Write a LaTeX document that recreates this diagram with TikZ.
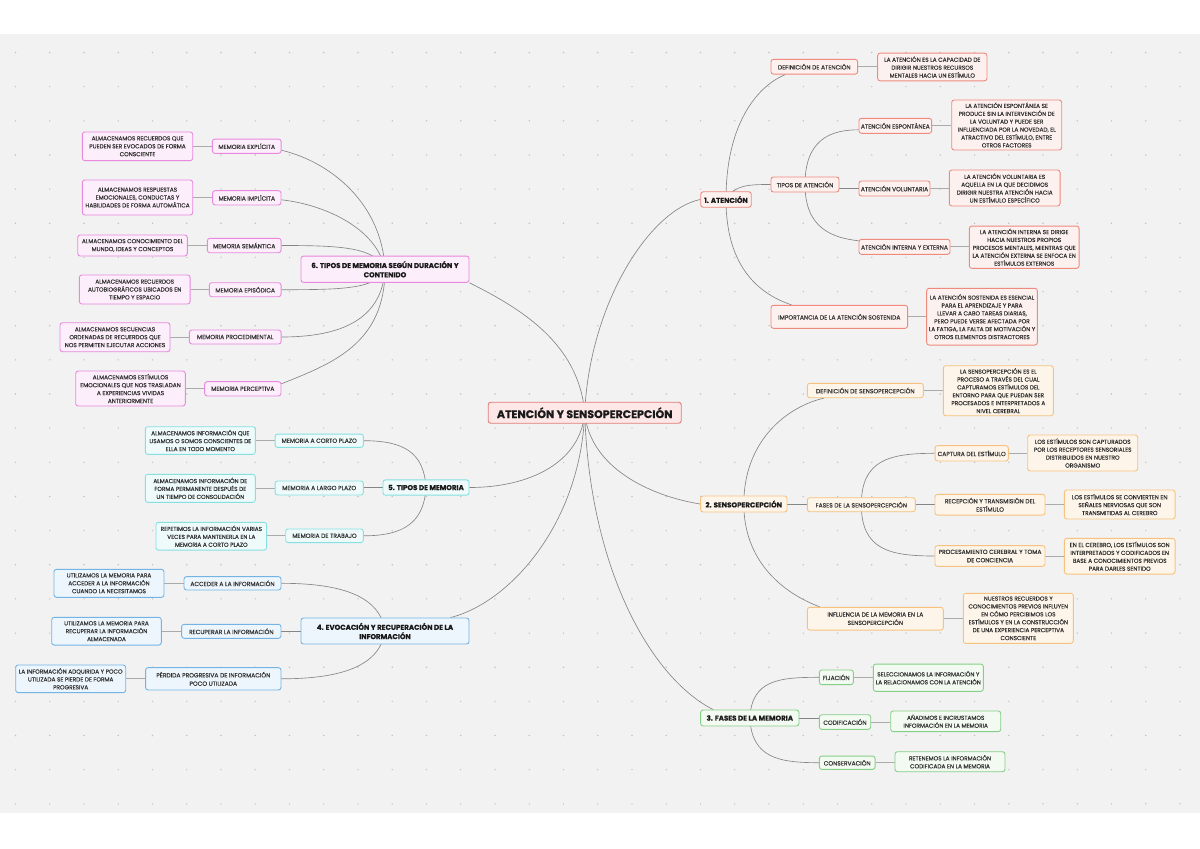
\documentclass[tikz,border=0pt]{standalone}
\usepackage{fontspec}
\setmainfont{Poppins}
\newfontfamily\medfont{Poppins}[FakeBold=0.35]
\newfontfamily\heavyfont{Poppins}[BoldFeatures={FakeBold=0.5}]
\usetikzlibrary{calc,backgrounds}
\definecolor{bgG}{HTML}{F2F2F2}
\definecolor{dotG}{HTML}{C4C4C4}
\definecolor{lnG}{HTML}{858585}
\definecolor{lfG}{HTML}{ABABAB}
\definecolor{txt}{HTML}{333333}
\definecolor{hdt}{HTML}{1A1A1A}
\definecolor{cB}{HTML}{E07E78}\definecolor{cF}{HTML}{FDE7E7}
\definecolor{atB}{HTML}{EE8A7E}\definecolor{atF}{HTML}{FDF1EF}
\definecolor{soB}{HTML}{F6C27E}\definecolor{soF}{HTML}{FEF5EA}
\definecolor{meB}{HTML}{86CF86}\definecolor{meF}{HTML}{F3FAF2}
\definecolor{evB}{HTML}{74B4E4}\definecolor{evF}{HTML}{EEF6FD}
\definecolor{tmB}{HTML}{86E0E2}\definecolor{tmF}{HTML}{EFFBFB}
\definecolor{tdB}{HTML}{E888DF}\definecolor{tdF}{HTML}{FCEEFA}
\newcommand\lfnt{\medfont\fontsize{5.8}{7.9}\selectfont}
\newcommand\mfnt{\medfont\fontsize{6.0}{8.3}\selectfont}
\newcommand\hfnt{\heavyfont\fontsize{7.1}{9.3}\selectfont\bfseries}
\newcommand\cfnt{\heavyfont\fontsize{11}{13}\selectfont\bfseries}
\tikzset{
  box/.style={draw, rounded corners=2.5pt, line width=0.9pt, align=center, inner sep=1pt, text=txt},
  lbox/.style={box, font=\lfnt},
  mbox/.style={box, font=\mfnt},
  hbox/.style={box, font=\hfnt, text=hdt},
  sz/.style 2 args={minimum width=#1pt, minimum height=#2pt},
  atn/.style={draw=atB, fill=atF},
  son/.style={draw=soB, fill=soF},
  men/.style={draw=meB, fill=meF},
  evn/.style={draw=evB, fill=evF},
  tmn/.style={draw=tmB, fill=tmF},
  tdn/.style={draw=tdB, fill=tdF},
  curve/.style={draw=lnG, line width=0.65pt},
  leafln/.style={draw=lfG, line width=0.9pt},
}
\begin{document}
\begin{tikzpicture}[x=1pt,y=-1pt]
\useasboundingbox (0,0) rectangle (1200,849);
% ---------- nodes ----------
\node[box, font=\cfnt, text=hdt, draw=cB, fill=cF, sz={193}{21}] (c) at (584.7,412.7) {ATENCIÓN Y SENSOPERCEPCIÓN};
% 1
\node[hbox, atn, sz={50.5}{15.5}] (n1) at (726,199.5) {1. ATENCIÓN};
\node[mbox, atn, sz={86.7}{14.7}] (n1a) at (814.3,66.7) {DEFINICIÓN DE ATENCIÓN};
\node[lbox, atn, sz={109.3}{27.7}] (n1aL) at (932.3,67) {LA ATENCIÓN ES LA CAPACIDAD DE\\DIRIGIR NUESTROS RECURSOS\\MENTALES HACIA UN ESTÍMULO};
\node[mbox, atn, sz={68}{15}] (n1b) at (805,184.5) {TIPOS DE ATENCIÓN};
\node[mbox, atn, sz={72.7}{15}] (n1b1) at (895.3,125.8) {ATENCIÓN ESPONTÁNEA};
\node[lbox, atn, sz={110}{50}] (n1b1L) at (1006.7,125) {LA ATENCIÓN ESPONTÁNEA SE\\PRODUCE SIN LA INTERVENCIÓN DE\\LA VOLUNTAD Y PUEDE SER\\INFLUENCIADA POR LA NOVEDAD, EL\\ATRACTIVO DEL ESTÍMULO, ENTRE\\OTROS FACTORES};
\node[mbox, atn, sz={71}{15}] (n1b2) at (894.5,188.5) {ATENCIÓN VOLUNTARIA};
\node[lbox, atn, sz={110.7}{36}] (n1b2L) at (1004.7,188) {LA ATENCIÓN VOLUNTARIA ES\\AQUELLA EN LA QUE DECIDIMOS\\DIRIGIR NUESTRA ATENCIÓN HACIA\\UN ESTÍMULO ESPECÍFICO};
\node[mbox, atn, sz={91}{15}] (n1b3) at (904.5,246.8) {ATENCIÓN INTERNA Y EXTERNA};
\node[lbox, atn, sz={109.7}{42.3}] (n1b3L) at (1024.2,247.2) {LA ATENCIÓN INTERNA SE DIRIGE\\HACIA NUESTROS PROPIOS\\PROCESOS MENTALES, MIENTRAS QUE\\LA ATENCIÓN EXTERNA SE ENFOCA EN\\ESTÍMULOS EXTERNOS};
\node[mbox, atn, sz={136.7}{23}] (n1c) at (839.3,316.8) {IMPORTANCIA DE LA ATENCIÓN SOSTENIDA};
\node[lbox, atn, sz={110.7}{56.7}] (n1cL) at (982,316.7) {LA ATENCIÓN SOSTENIDA ES ESENCIAL\\PARA EL APRENDIZAJE Y PARA\\LLEVAR A CABO TAREAS DIARIAS,\\PERO PUEDE VERSE AFECTADA POR\\LA FATIGA, LA FALTA DE MOTIVACIÓN Y\\OTROS ELEMENTOS DISTRACTORES};
% 2
\node[hbox, son, sz={86.3}{16}] (n2) at (743.8,504) {2. SENSOPERCEPCIÓN};
\node[mbox, son, sz={116}{14.4}] (n2a) at (865.3,390.5) {DEFINICIÓN DE SENSOPERCEPCIÓN};
\node[lbox, son, sz={110}{50}] (n2aL) at (998.3,390.7) {LA SENSOPERCEPCIÓN ES EL\\PROCESO A TRAVÉS DEL CUAL\\CAPTURAMOS ESTÍMULOS DEL\\ENTORNO PARA QUE PUEDAN SER\\PROCESADOS E INTERPRETADOS A\\NIVEL CEREBRAL};
\node[mbox, son, sz={108}{14}] (n2b) at (861.3,504.7) {FASES DE LA SENSOPERCEPCIÓN};
\node[mbox, son, sz={73.3}{15.3}] (n2b1) at (971.7,453.3) {CAPTURA DEL ESTÍMULO};
\node[lbox, son, sz={110}{36}] (n2b1L) at (1082.7,453) {LOS ESTÍMULOS SON CAPTURADOS\\POR LOS RECEPTORES SENSORIALES\\DISTRIBUIDOS EN NUESTRO\\ORGANISMO};
\node[mbox, son, sz={110}{20.7}] (n2b2) at (990,504.7) {RECEPCIÓN Y TRANSMISIÓN DEL\\ESTÍMULO};
\node[lbox, son, sz={110.7}{29}] (n2b2L) at (1119.7,504.5) {LOS ESTÍMULOS SE CONVIERTEN EN\\SEÑALES NERVIOSAS QUE SON\\TRANSMITIDAS AL CEREBRO};
\node[mbox, son, sz={110}{20.7}] (n2b3) at (990,556) {PROCESAMIENTO CEREBRAL Y TOMA\\DE CONCIENCIA};
\node[lbox, son, sz={110.7}{35.7}] (n2b3L) at (1119.7,556.2) {EN EL CEREBRO, LOS ESTÍMULOS SON\\INTERPRETADOS Y CODIFICADOS EN\\BASE A CONOCIMIENTOS PREVIOS\\PARA DARLES SENTIDO};
\node[mbox, son, sz={136}{22.7}] (n2c) at (875.3,618.7) {INFLUENCIA DE LA MEMORIA EN LA\\SENSOPERCEPCIÓN};
\node[lbox, son, sz={110}{50}] (n2cL) at (1018.3,618.3) {NUESTROS RECUERDOS Y\\CONOCIMIENTOS PREVIOS INFLUYEN\\EN CÓMO PERCIBIMOS LOS\\ESTÍMULOS Y EN LA CONSTRUCCIÓN\\DE UNA EXPERIENCIA PERCEPTIVA\\CONSCIENTE};
% 3
\node[hbox, men, sz={98.3}{16}] (n3) at (749.8,718) {3. FASES DE LA MEMORIA};
\node[mbox, men, sz={34}{14.7}] (n3a) at (836.3,677.3) {FIJACIÓN};
\node[lbox, men, sz={110}{27.3}] (n3aL) at (928.3,677.7) {SELECCIONAMOS LA INFORMACIÓN Y\\LA RELACIONAMOS CON LA ATENCIÓN};
\node[mbox, men, sz={51.4}{14.6}] (n3b) at (845,722) {CODIFICACIÓN};
\node[lbox, men, sz={110}{20.7}] (n3bL) at (945.7,721.3) {AÑADIMOS E INCRUSTAMOS\\INFORMACIÓN EN LA MEMORIA};
\node[mbox, men, sz={55.7}{13.3}] (n3c) at (847.2,762.7) {CONSERVACIÓN};
\node[lbox, men, sz={110}{20}] (n3cL) at (950,761.7) {RETENEMOS LA INFORMACIÓN\\CODIFICADA EN LA MEMORIA};
% 6
\node[hbox, tdn, sz={168}{26.3}] (n6) at (385,269.2) {6. TIPOS DE MEMORIA SEGÚN DURACIÓN Y\\CONTENIDO};
\node[mbox, tdn, sz={68.7}{14.3}] (n6a) at (246.7,146.2) {MEMORIA EXPLÍCITA};
\node[lbox, tdn, sz={110.4}{28.7}] (n6aL) at (137.5,146.3) {ALMACENAMOS RECUERDOS QUE\\PUEDEN SER EVOCADOS DE FORMA\\CONSCIENTE};
\node[mbox, tdn, sz={68.3}{14.3}] (n6b) at (246.8,197.8) {MEMORIA IMPLÍCITA};
\node[lbox, tdn, sz={110.4}{35}] (n6bL) at (137.5,197.5) {ALMACENAMOS RESPUESTAS\\EMOCIONALES, CONDUCTAS Y\\HABILIDADES DE FORMA AUTOMÁTICA};
\node[mbox, tdn, sz={73.7}{14.4}] (n6c) at (244.2,245.5) {MEMORIA SEMÁNTICA};
\node[lbox, tdn, sz={109.6}{21}] (n6cL) at (132.5,245.5) {ALMACENAMOS CONOCIMIENTO DEL\\MUNDO, IDEAS Y CONCEPTOS};
\node[mbox, tdn, sz={71.7}{14}] (n6d) at (245.2,289.7) {MEMORIA EPISÓDICA};
\node[lbox, tdn, sz={110.7}{29}] (n6dL) at (134.7,289.5) {ALMACENAMOS RECUERDOS\\AUTOBIOGRÁFICOS UBICADOS EN\\TIEMPO Y ESPACIO};
\node[mbox, tdn, sz={91.7}{14}] (n6e) at (235.2,337) {MEMORIA PROCEDIMENTAL};
\node[lbox, tdn, sz={110}{29}] (n6eL) at (115,337.2) {ALMACENAMOS SECUENCIAS\\ORDENADAS DE RECUERDOS QUE\\NOS PERMITEN EJECUTAR ACCIONES};
\node[mbox, tdn, sz={76.3}{14.3}] (n6f) at (242.8,388.8) {MEMORIA PERCEPTIVA};
\node[lbox, tdn, sz={109.6}{35}] (n6fL) at (130.5,388.5) {ALMACENAMOS ESTÍMULOS\\EMOCIONALES QUE NOS TRASLADAN\\A EXPERIENCIAS VIVIDAS\\ANTERIORMENTE};
% 5
\node[hbox, tmn, sz={86}{15.3}] (n5) at (426,487.5) {5. TIPOS DE MEMORIA};
\node[mbox, tmn, sz={88.3}{13.3}] (n5a) at (319.2,440.7) {MEMORIA A CORTO PLAZO};
\node[lbox, tmn, sz={110}{27.6}] (n5aL) at (200.3,440.5) {ALMACENAMOS INFORMACIÓN QUE\\USAMOS O SOMOS CONSCIENTES DE\\ELLA EN TODO MOMENTO};
\node[mbox, tmn, sz={88.3}{14}] (n5b) at (319.2,488) {MEMORIA A LARGO PLAZO};
\node[lbox, tmn, sz={110}{28}] (n5bL) at (200.3,488.3) {ALMACENAMOS INFORMACIÓN DE\\FORMA PERMANENTE DESPUÉS DE\\UN TIEMPO DE CONSOLIDACIÓN};
\node[mbox, tmn, sz={77.6}{13.7}] (n5c) at (324.5,535.8) {MEMORIA DE TRABAJO};
\node[lbox, tmn, sz={110.7}{27.7}] (n5cL) at (211.3,536.2) {REPETIMOS LA INFORMACIÓN VARIAS\\VECES PARA MANTENERLA EN LA\\MEMORIA A CORTO PLAZO};
% 4
\node[hbox, evn, sz={168}{26}] (n4) at (385,631) {4. EVOCACIÓN Y RECUPERACIÓN DE LA\\INFORMACIÓN};
\node[mbox, evn, sz={97}{13.3}] (n4a) at (232.5,583.3) {ACCEDER A LA INFORMACIÓN};
\node[lbox, evn, sz={110}{28}] (n4aL) at (109,583.3) {UTILIZAMOS LA MEMORIA PARA\\ACCEDER A LA INFORMACIÓN\\CUANDO LA NECESITAMOS};
\node[mbox, evn, sz={99.3}{14}] (n4b) at (231.3,631.3) {RECUPERAR LA INFORMACIÓN};
\node[lbox, evn, sz={109.6}{27.7}] (n4bL) at (106.5,631.2) {UTILIZAMOS LA MEMORIA PARA\\RECUPERAR LA INFORMACIÓN\\ALMACENADA};
\node[mbox, evn, sz={135.3}{22.3}] (n4c) at (213.3,678.8) {PÉRDIDA PROGRESIVA DE INFORMACIÓN\\POCO UTILIZADA};
\node[lbox, evn, sz={110}{27.7}] (n4cL) at (70.7,678.8) {LA INFORMACIÓN ADQUIRIDA Y POCO\\UTILIZADA SE PIERDE DE FORMA\\PROGRESIVA};
% ---------- background + connectors ----------
\begin{scope}[on background layer]
\fill[white] (0,0) rectangle (1200,849);
\fill[bgG] (0,34) rectangle (1200,813);
\foreach \i in {0,...,34}{\foreach \j in {0,...,22}{
  \fill[dotG] ({15.5+34.25*\i},{52.5+34.15*\j}) circle (0.8);
}}
% central
\draw[curve] (c.center) .. controls +(5,-110) and +(-50,10) .. (n1.west);
\draw[curve] (c.center) .. controls +(-6,-70) and +(50,25) .. (n6.south east);
\draw[curve] (c.center) .. controls +(-4,50) and +(60,0) .. (n5.east);
\draw[curve] (c.center) .. controls +(-4,110) and +(60,-15) .. ($(n4.north east)+(-19,0)$);
\draw[curve] (c.center) .. controls +(5,55) and +(-50,-8) .. (n2.west);
\draw[curve] (c.center) .. controls +(5,160) and +(-60,-30) .. ($(n3.north west)+(13,0)$);
% 1
\draw[curve] (n1.center) .. controls +(0,-80) and +(-25,10) .. ($(n1a.south west)+(15,0)$);
\draw[curve] (n1.center) .. controls +(8,-15) and +(-20,0) .. (n1b.west);
\draw[curve] (n1.center) .. controls +(0,70) and +(-30,-10) .. ($(n1c.north west)+(21,0)$);
\draw[curve] (n1b.center) .. controls +(0,-45) and +(-28,0) .. ($(n1b1.west)+(0,4)$);
\draw[curve] (n1b.east |- n1b2.west) -- (n1b2.west);
\draw[curve] (n1b.center) .. controls +(0,45) and +(-25,-3) .. ($(n1b3.west)+(0,-6)$);
\draw[leafln] (n1a.east) -- (n1a.east -| n1aL.west);
\draw[leafln] (n1b1.east) -- (n1b1.east -| n1b1L.west);
\draw[leafln] (n1b2.east) -- (n1b2.east -| n1b2L.west);
\draw[leafln] (n1b3.east) -- (n1b3.east -| n1b3L.west);
\draw[leafln] (n1c.east) -- (n1c.east -| n1cL.west);
% 2
\draw[curve] (n2.center) .. controls +(0,-65) and +(-35,8) .. ($(n2a.south west)+(17,0)$);
\draw[curve] (n2.east) -- (n2.east -| n2b.west);
\draw[curve] (n2.center) .. controls +(0,55) and +(-40,-15) .. ($(n2c.north west)+(13,0)$);
\draw[curve] (n2b.center) .. controls +(0,-45) and +(-45,0) .. (n2b1.west);
\draw[curve] (n2b.east) -- (n2b2.west);
\draw[curve] (n2b.center) .. controls +(0,45) and +(-45,0) .. (n2b3.west);
\draw[leafln] (n2a.east) -- (n2a.east -| n2aL.west);
\draw[leafln] (n2b1.east) -- (n2b1.east -| n2b1L.west);
\draw[leafln] (n2b2.east) -- (n2b2.east -| n2b2L.west);
\draw[leafln] (n2b3.east) -- (n2b3.east -| n2b3L.west);
\draw[leafln] (n2c.east) -- (n2c.east -| n2cL.west);
% 3
\draw[curve] (n3.center) .. controls +(2,-38) and +(-40,0) .. (n3a.west);
\draw[curve] (n3.east) -- (n3.east -| n3b.west);
\draw[curve] (n3.center) .. controls +(2,40) and +(-40,0) .. (n3c.west);
\draw[leafln] (n3a.east) -- (n3a.east -| n3aL.west);
\draw[leafln] (n3b.east) -- (n3b.east -| n3bL.west);
\draw[leafln] (n3c.east) -- (n3c.east -| n3cL.west);
% 6
\draw[curve] (n6.center) .. controls +(-3,-65) and +(50,12) .. ($(n6a.east)+(0,4)$);
\draw[curve] (n6.center) .. controls +(-8,-40) and +(45,5) .. ($(n6b.east)+(0,2)$);
\draw[curve] (n6.center) .. controls +(-10,-22) and +(60,0) .. (n6c.east);
\draw[curve] (n6.center) .. controls +(-8,20) and +(60,0) .. (n6d.east);
\draw[curve] (n6.center) .. controls +(-3,50) and +(60,0) .. (n6e.east);
\draw[curve] (n6.center) .. controls +(0,75) and +(50,-20) .. ($(n6f.east)+(0,-5)$);
\draw[leafln] (n6a.west) -- (n6a.west -| n6aL.east);
\draw[leafln] (n6b.west) -- (n6b.west -| n6bL.east);
\draw[leafln] (n6c.west) -- (n6c.west -| n6cL.east);
\draw[leafln] (n6d.west) -- (n6d.west -| n6dL.east);
\draw[leafln] (n6e.west) -- (n6e.west -| n6eL.east);
\draw[leafln] (n6f.west) -- (n6f.west -| n6fL.east);
% 5
\draw[curve] (n5.center) .. controls +(-2,-35) and +(40,0) .. (n5a.east);
\draw[curve] (n5.west) -- (n5.west -| n5b.east);
\draw[curve] (n5.center) .. controls +(-2,35) and +(40,0) .. (n5c.east);
\draw[leafln] (n5a.west) -- (n5a.west -| n5aL.east);
\draw[leafln] (n5b.west) -- (n5b.west -| n5bL.east);
\draw[leafln] (n5c.west) -- (n5c.west -| n5cL.east);
% 4
\draw[curve] (n4.center) .. controls +(-5,-35) and +(60,0) .. (n4a.east);
\draw[curve] (n4.west) -- (n4.west -| n4b.east);
\draw[curve] (n4.center) .. controls +(-5,35) and +(60,0) .. (n4c.east);
\draw[leafln] (n4a.west) -- (n4a.west -| n4aL.east);
\draw[leafln] (n4b.west) -- (n4b.west -| n4bL.east);
\draw[leafln] (n4c.west) -- (n4c.west -| n4cL.east);
\end{scope}
\end{tikzpicture}
\end{document}
